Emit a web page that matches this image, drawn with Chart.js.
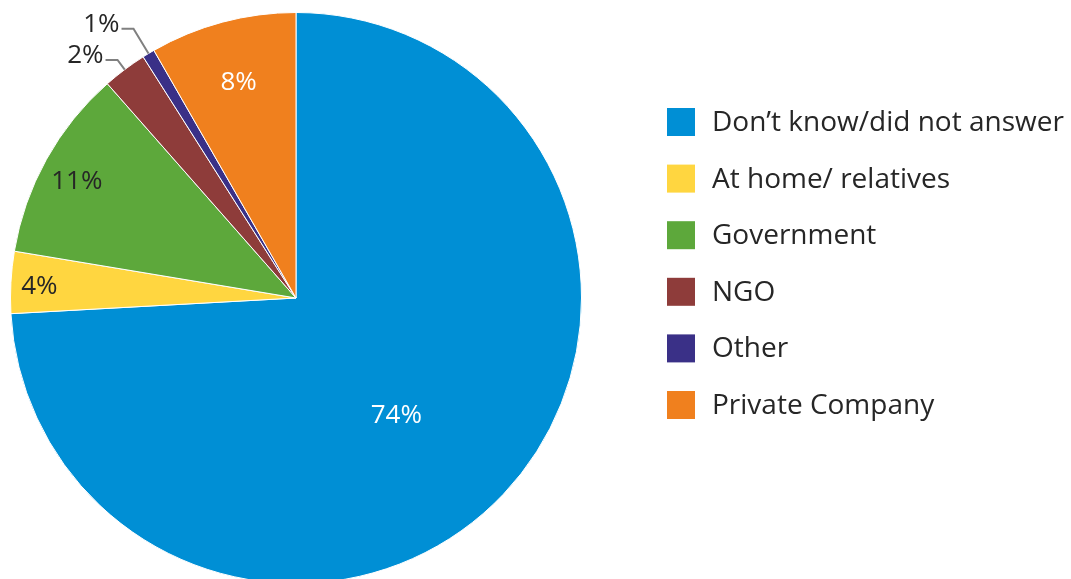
<!DOCTYPE html>
<html>
<head>
<meta charset="utf-8">
<script src="https://cdn.jsdelivr.net/npm/chart.js@4"></script>
<style>
  html, body { margin: 0; padding: 0; background: #ffffff; overflow: hidden; width: 1071px; height: 579px; }
  #wrap { position: absolute; left: 0; top: 0; width: 1071px; height: 596px; }
</style>
</head>
<body>
<div id="wrap"><canvas id="c"></canvas></div>
<script>
const categories = ["Don\u2019t know/did not answer", "At home/ relatives", "Government", "NGO", "Other", "Private Company"];
const shares = [74.2, 3.5, 10.9, 2.5, 0.7, 8.3];
const shareLabels = ["74%", "4%", "11%", "2%", "1%", "8%"];
const sliceColors = ["#008fd5", "#ffd640", "#5da83b", "#8e3c3a", "#3a3087", "#f0801e"];

const FONT = "'Open Sans', sans-serif";

// label placement per slice: inside (radius fraction, angle offset deg) or leader (extra radius)
const labelPlacement = [
  { r: 0.54, dA: 6, color: "#ffffff" },
  { r: 0.90, dA: -0.5, color: "#262626" },
  { r: 0.87, dA: -1, color: "#262626" },
  { leader: 12, color: "#262626" },
  { leader: 29, color: "#262626" },
  { r: 0.78, dA: 0, color: "#ffffff" }
];

const labelPlugin = {
  id: "sliceLabels",
  afterDatasetsDraw(chart) {
    const ctx = chart.ctx;
    const meta = chart.getDatasetMeta(0);
    ctx.save();
    ctx.font = "26px " + FONT;
    meta.data.forEach((arc, i) => {
      const p = labelPlacement[i];
      const { x, y, startAngle, endAngle, outerRadius } = arc.getProps(["x", "y", "startAngle", "endAngle", "outerRadius"], true);
      const mid = (startAngle + endAngle) / 2;
      ctx.fillStyle = p.color;
      if (p.leader !== undefined) {
        const ex = x + Math.cos(mid) * outerRadius;
        const ey = y + Math.sin(mid) * outerRadius;
        const bx = x + Math.cos(mid) * (outerRadius + p.leader);
        const by = y + Math.sin(mid) * (outerRadius + p.leader);
        const hx = bx - 12;
        ctx.strokeStyle = "#808080";
        ctx.lineWidth = 2;
        ctx.beginPath();
        ctx.moveTo(ex, ey);
        ctx.lineTo(bx, by);
        ctx.lineTo(hx, by);
        ctx.stroke();
        ctx.textAlign = "right";
        ctx.textBaseline = "middle";
        ctx.fillText(shareLabels[i], hx - 2, by - 4);
      } else {
        const a = mid + p.dA * Math.PI / 180;
        const lx = x + Math.cos(a) * outerRadius * p.r;
        const ly = y + Math.sin(a) * outerRadius * p.r;
        ctx.textAlign = "center";
        ctx.textBaseline = "middle";
        ctx.fillText(shareLabels[i], lx, ly);
      }
    });
    ctx.restore();
  }
};

const legendPlugin = {
  id: "sideLegend",
  afterDraw(chart) {
    const ctx = chart.ctx;
    const o = chart.options.plugins.sideLegend;
    ctx.save();
    ctx.font = o.fontSize + "px " + FONT;
    ctx.textAlign = "left";
    ctx.textBaseline = "middle";
    chart.data.labels.forEach((lab, i) => {
      const top = o.top + i * o.step;
      ctx.fillStyle = chart.data.datasets[0].backgroundColor[i];
      ctx.fillRect(o.left, top, o.box, o.box);
      ctx.fillStyle = "#262626";
      ctx.fillText(lab, o.textLeft, top + o.box / 2 + 1);
    });
    ctx.restore();
  }
};

new Chart(document.getElementById("c"), {
  type: "pie",
  data: {
    labels: categories,
    datasets: [{
      data: shares,
      backgroundColor: sliceColors,
      borderColor: "#ffffff",
      borderWidth: 1
    }]
  },
  options: {
    responsive: true,
    maintainAspectRatio: false,
    animation: false,
    layout: { padding: { left: 10, top: 12, bottom: 12, right: 489 } },
    plugins: {
      legend: { display: false },
      tooltip: { enabled: false },
      sideLegend: { left: 667, top: 108, step: 56.6, box: 28, textLeft: 712, fontSize: 28 }
    }
  },
  plugins: [labelPlugin, legendPlugin]
});
</script>
</body>
</html>
